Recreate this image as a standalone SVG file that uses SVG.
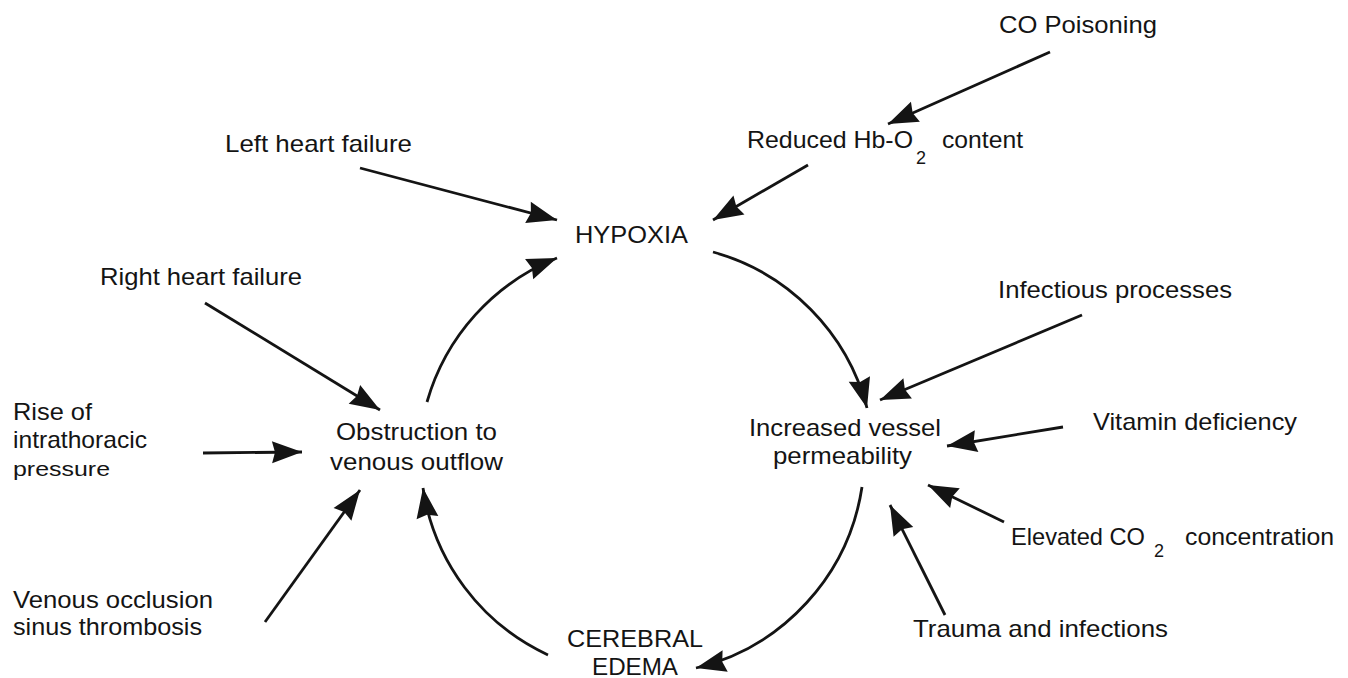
<svg xmlns="http://www.w3.org/2000/svg" width="1348" height="678" viewBox="0 0 1348 678">
<style>
text{font-family:"Liberation Sans",Arial,Helvetica,sans-serif;font-size:24px;fill:#141414}
.sub{font-size:18px}
.c{fill:none;stroke:#141414;stroke-width:2.8;marker-end:url(#ah)}
</style>
<defs>
<marker id="ah" markerUnits="userSpaceOnUse" markerWidth="34" markerHeight="24" refX="30" refY="11" orient="auto" overflow="visible">
<path d="M0,0 L30,11 L0,22 L3,11 z" fill="#141414"/>
</marker>
</defs>
<rect width="1348" height="678" fill="#fff"/>
<g id="connectors">
<line class="c" x1="1050" y1="52" x2="888" y2="124"/>
<line class="c" x1="808" y1="165" x2="713" y2="220"/>
<line class="c" x1="360" y1="168" x2="557" y2="220"/>
<line class="c" x1="205" y1="303" x2="380" y2="410"/>
<line class="c" x1="203" y1="453" x2="302" y2="452"/>
<line class="c" x1="265" y1="622" x2="360" y2="490"/>
<line class="c" x1="1082" y1="315" x2="880" y2="400"/>
<line class="c" x1="1063" y1="427" x2="947" y2="446"/>
<line class="c" x1="1004" y1="522" x2="928" y2="485"/>
<line class="c" x1="945" y1="615" x2="890" y2="505"/>
<path class="c" d="M713,252 A220,220 0 0 1 867,408"/>
<path class="c" d="M862,487 A220,220 0 0 1 696,668"/>
<path class="c" d="M548,655 A220,220 0 0 1 423,488"/>
<path class="c" d="M427,402 A220,220 0 0 1 557,258"/>
</g>
<g id="co-poisoning"><text x="999" y="33" textLength="158" lengthAdjust="spacingAndGlyphs">CO Poisoning</text></g>
<g id="reduced-hbo2"><text x="747" y="148" textLength="166" lengthAdjust="spacingAndGlyphs">Reduced Hb-O</text><text class="sub" x="916" y="164">2</text><text x="942" y="148" textLength="81" lengthAdjust="spacingAndGlyphs">content</text></g>
<g id="left-heart-failure"><text x="225" y="152" textLength="187" lengthAdjust="spacingAndGlyphs">Left heart failure</text></g>
<g id="hypoxia"><text x="575" y="243" textLength="113" lengthAdjust="spacingAndGlyphs">HYPOXIA</text></g>
<g id="right-heart-failure"><text x="100" y="285" textLength="202" lengthAdjust="spacingAndGlyphs">Right heart failure</text></g>
<g id="infectious-processes"><text x="998" y="298" textLength="234" lengthAdjust="spacingAndGlyphs">Infectious processes</text></g>
<g id="rise-intrathoracic"><text x="13" y="420" textLength="79" lengthAdjust="spacingAndGlyphs">Rise of</text><text x="13" y="448" textLength="134" lengthAdjust="spacingAndGlyphs">intrathoracic</text><text x="13" y="476" textLength="97" lengthAdjust="spacingAndGlyphs" style="font-size:21px">pressure</text></g>
<g id="obstruction"><text x="336" y="440" textLength="161" lengthAdjust="spacingAndGlyphs">Obstruction to</text><text x="330" y="470" textLength="173" lengthAdjust="spacingAndGlyphs">venous outflow</text></g>
<g id="increased-permeability"><text x="749" y="436" textLength="192" lengthAdjust="spacingAndGlyphs">Increased vessel</text><text x="773" y="464" textLength="139" lengthAdjust="spacingAndGlyphs">permeability</text></g>
<g id="vitamin-deficiency"><text x="1093" y="430" textLength="204" lengthAdjust="spacingAndGlyphs">Vitamin deficiency</text></g>
<g id="elevated-co2"><text x="1011" y="545" textLength="134" lengthAdjust="spacingAndGlyphs">Elevated CO</text><text class="sub" x="1154" y="557">2</text><text x="1185" y="545" textLength="149" lengthAdjust="spacingAndGlyphs">concentration</text></g>
<g id="venous-occlusion"><text x="13" y="608" textLength="200" lengthAdjust="spacingAndGlyphs">Venous occlusion</text><text x="13" y="635" textLength="189" lengthAdjust="spacingAndGlyphs">sinus thrombosis</text></g>
<g id="trauma-infections"><text x="913" y="637" textLength="255" lengthAdjust="spacingAndGlyphs">Trauma and infections</text></g>
<g id="cerebral-edema"><text x="567" y="647" textLength="136" lengthAdjust="spacingAndGlyphs">CEREBRAL</text><text x="592" y="675" textLength="86" lengthAdjust="spacingAndGlyphs">EDEMA</text></g>
</svg>
